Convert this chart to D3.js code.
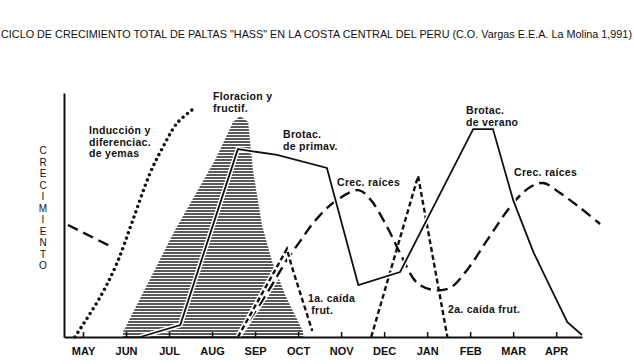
<!DOCTYPE html>
<html>
<head>
<meta charset="utf-8">
<script src="https://cdn.jsdelivr.net/npm/d3@7"></script>
<style>
  html, body { margin: 0; padding: 0; background: #fff; }
  svg { display: block; font-family: "Liberation Sans", Arial, sans-serif; }
</style>
</head>
<body>
<div id="chart"></div>
<script>
// Month axis (index 0 = MAY) and growth values (0-100 = top of axis)
const MONTHS = ["MAY","JUN","JUL","AUG","SEP","OCT","NOV","DEC","JAN","FEB","MAR","APR"];

// Inducción y diferenciación de yemas (dotted)
const INDUCCION = [[-0.19,0],[0.40,16.4],[0.79,30.3],[1.16,48.0],[1.56,67.2],[1.86,77.9],[2.19,87.7],[2.53,93.0]];
// Floración y fructificación (hatched area outline)
const FLORACION = [[0.93,2.0],[2.14,43.9],[3.07,72.5],[3.49,88.1],[3.65,90.6],[3.84,88.1],[3.95,68.4],[4.16,45.9],[4.40,30.7],[4.70,17.2],[5.12,2.0]];
// Brotación de primavera + verano (solid)
const BROTACION = [[1.33,0],[2.26,4.9],[3.60,77.0],[4.51,74.6],[5.67,69.3],[6.40,21.3],[7.37,26.6],[9.07,85.2],[9.53,85.2],[10.0,56.1],[10.47,34.8],[10.93,18.0],[11.26,6.1],[11.60,0.8]];
// Crecimiento de raíces (long dashes) — end of previous season, then current
const RAICES_PREV = [[-0.35,45.9],[0.67,36.9]];
const RAICES = [[3.65,1.2],[4.28,18.0],[4.74,31.6],[5.05,39.3],[5.35,46.7],[5.81,54.9],[6.40,60.2],[6.67,56.6],[7.07,45.1],[7.37,34.4],[7.77,22.1],[8.14,19.3],[8.53,20.1],[8.93,27.5],[9.40,39.8],[10.0,54.9],[10.40,61.5],[10.70,63.1],[11.09,59.0],[11.56,52.9],[12.02,46.3]];
// Caídas de frutos (short dashes)
const CAIDA1 = [[3.60,0],[4.74,36.1],[4.86,28.5],[5.05,18.0],[5.33,2.5]];
const CAIDA2 = [[6.70,0],[7.79,66.0],[8.47,0]];

const LABELS = [
  { x: 89,  y: 134, lines: ["Inducción y", "diferenciac.", "de yemas"] },
  { x: 213, y: 100, lines: ["Floracion y", "fructif."] },
  { x: 283, y: 138, lines: ["Brotac.", "de primav."] },
  { x: 337, y: 186, lines: ["Crec. raíces"] },
  { x: 308, y: 302, lines: ["1a. caída", " frut."] },
  { x: 448, y: 313, lines: ["2a. caída frut."] },
  { x: 466, y: 114, lines: ["Brotac.", "de verano"] },
  { x: 514, y: 176, lines: ["Crec. raíces"] }
];

const W = 634, H = 364;
const svg = d3.select("#chart").append("svg").attr("width", W).attr("height", H);

const x = d3.scaleLinear().domain([-0.442, 11.6]).range([64, 582]);
const y = d3.scaleLinear().domain([0, 100]).range([337, 93]);

/* Hatch pattern */
const pat = svg.append("defs").append("pattern")
  .attr("id", "hatch").attr("patternUnits", "userSpaceOnUse")
  .attr("width", 6).attr("height", 3);
pat.append("line").attr("x1", 0).attr("x2", 6).attr("y1", 1).attr("y2", 1)
  .attr("stroke", "#111").attr("stroke-width", 1.4);

/* Title */
svg.append("text").attr("x", 1).attr("y", 38)
  .attr("textLength", 631).attr("lengthAdjust", "spacingAndGlyphs")
  .style("font-size", "10.5px").style("fill", "#111")
  .text('CICLO DE CRECIMIENTO TOTAL DE PALTAS "HASS"  EN LA  COSTA CENTRAL DEL PERU (C.O. Vargas E.E.A. La Molina 1,991)');

/* Y axis label stacked letters */
"CRECIMIENTO".split("").forEach((c, i) => {
  svg.append("text").attr("x", 43).attr("y", 154 + i * 11.5)
    .attr("text-anchor", "middle").style("font-size", "10px").style("fill", "#111")
    .text(c);
});

/* Floración area */
const area = d3.area().x(d => x(d[0])).y0(y(0)).y1(d => y(d[1])).curve(d3.curveLinear);
svg.append("path").datum(FLORACION).attr("d", area).attr("fill", "url(#hatch)");

const line = d3.line().x(d => x(d[0])).y(d => y(d[1]));
const smooth = d3.line().x(d => x(d[0])).y(d => y(d[1])).curve(d3.curveCatmullRom);

function drawLine(data, gen, width, dash, halo) {
  if (halo) {
    svg.append("path").datum(data).attr("d", gen).attr("fill", "none")
      .attr("stroke", "#fff").attr("stroke-width", width + 3);
  }
  svg.append("path").datum(data).attr("d", gen).attr("fill", "none")
    .attr("stroke", "#111").attr("stroke-width", width)
    .attr("stroke-dasharray", dash)
    .attr("stroke-linecap", dash && dash.startsWith("0,") ? "round" : "butt");
}

drawLine(RAICES_PREV, line, 2.4, "11,6", false);
drawLine(RAICES, smooth, 2.4, "11,6", true);
drawLine(CAIDA1, line, 2.4, "5,3", true);
drawLine(CAIDA2, line, 2.4, "5,3", false);
drawLine(BROTACION, line, 1.8, null, true);
drawLine(INDUCCION, smooth, 3.6, "0,5.6", false);

/* Axes */
const xAxis = svg.append("g").attr("transform", `translate(0,${y(0)})`)
  .call(d3.axisBottom(x).tickValues(d3.range(MONTHS.length)).tickFormat(i => MONTHS[i])
    .tickSize(-5).tickSizeOuter(0).tickPadding(10));
xAxis.select(".domain").attr("stroke", "#111").attr("stroke-width", 2);
xAxis.selectAll(".tick line").attr("stroke", "#111").attr("stroke-width", 1.5);
xAxis.selectAll(".tick text").attr("fill", "#111")
  .style("font-size", "11px").style("font-weight", "bold")
  .style("font-family", "'Liberation Sans', Arial, sans-serif");

const yAxis = svg.append("g").attr("transform", `translate(${x.range()[0]},0)`)
  .call(d3.axisLeft(y).tickValues([]).tickSizeOuter(0));
yAxis.select(".domain").attr("stroke", "#111").attr("stroke-width", 2);

/* Annotation labels */
LABELS.forEach(l => {
  const t = svg.append("text").attr("x", l.x).attr("y", l.y)
    .style("font-size", "10.5px").style("font-weight", "bold").style("fill", "#111")
    .style("letter-spacing", "0.3px");
  l.lines.forEach((s, i) => {
    t.append("tspan").attr("x", l.x).attr("dy", i === 0 ? 0 : 11.5).text(s);
  });
});
</script>
</body>
</html>
